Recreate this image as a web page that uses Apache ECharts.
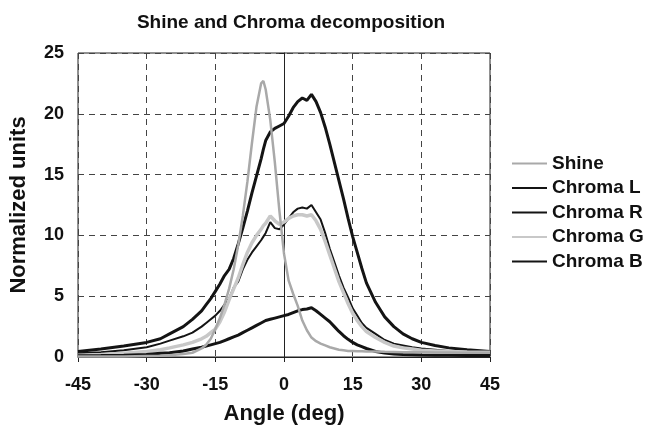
<!DOCTYPE html>
<html>
<head>
<meta charset="utf-8">
<script src="https://cdn.jsdelivr.net/npm/echarts@6/dist/echarts.min.js"></script>
<style>
html,body{margin:0;padding:0;background:#fff;}
#chart{width:646px;height:430px;}
</style>
</head>
<body>
<div id="chart"></div>
<script>
var angles = [-45,-40,-35,-30,-27,-25,-22,-20,-18,-17,-16,-15,-14,-13,-12,-11,-10,-9,-8,-7,-6,-5,-4.5,-4,-3,-2,-1,0,1,2,3,4,5,6,7,8,9,10,11,12,13,14,15,16,17,18,20,22,24,26,28,30,33,36,40,45];

var shine = [0.05,0.05,0.05,0.08,0.1,0.15,0.25,0.35,0.7,1.0,1.5,2.3,3.2,4.3,5.6,7.2,9.2,11.6,14.4,17.6,20.6,22.5,22.7,22.0,19.5,16.0,12.0,8.5,6.3,5.2,4.2,3.0,2.2,1.6,1.3,1.1,0.95,0.8,0.7,0.6,0.55,0.5,0.5,0.48,0.47,0.45,0.45,0.43,0.42,0.4,0.4,0.4,0.38,0.37,0.35,0.35];

var chromaL = [0.45,0.65,0.9,1.2,1.5,1.9,2.5,3.1,3.8,4.3,4.8,5.4,6.0,6.7,7.2,8.1,9.3,10.6,12.0,13.5,14.9,16.3,17.1,17.8,18.5,18.8,19.0,19.2,19.8,20.5,21.0,21.3,21.1,21.6,21.0,20.1,18.9,17.5,16.0,14.5,13.0,11.4,9.9,8.6,7.3,6.1,4.5,3.3,2.5,1.9,1.5,1.2,0.95,0.75,0.6,0.45];

var chromaR = [0.3,0.4,0.55,0.8,1.1,1.35,1.7,2.0,2.5,2.8,3.1,3.4,3.8,4.3,4.8,5.7,6.2,7.2,8.0,8.6,9.1,9.6,9.9,10.2,11.1,10.6,10.5,10.9,11.4,11.9,12.2,12.3,12.2,12.5,11.9,11.3,10.2,8.9,7.8,6.7,5.7,4.9,4.0,3.4,2.8,2.4,1.9,1.4,1.1,0.95,0.8,0.7,0.6,0.5,0.42,0.35];

var chromaG = [0.15,0.2,0.3,0.45,0.6,0.75,1.0,1.2,1.5,1.7,2.0,2.3,2.9,3.7,4.7,5.6,6.5,7.6,8.6,9.4,10.0,10.5,10.8,11.0,11.6,11.2,10.9,11.1,11.4,11.6,11.7,11.7,11.6,11.7,11.2,10.5,9.5,8.4,7.3,6.2,5.3,4.4,3.6,3.0,2.5,2.1,1.6,1.2,0.9,0.75,0.65,0.55,0.5,0.45,0.42,0.4];

var chromaB = [0.1,0.12,0.15,0.2,0.3,0.35,0.5,0.65,0.8,0.9,1.0,1.1,1.2,1.35,1.5,1.65,1.8,2.0,2.2,2.4,2.6,2.8,2.9,3.0,3.1,3.2,3.3,3.4,3.5,3.65,3.8,3.9,3.95,4.05,3.8,3.5,3.2,2.9,2.5,2.1,1.75,1.45,1.2,1.0,0.85,0.7,0.45,0.32,0.25,0.2,0.18,0.16,0.15,0.14,0.12,0.12];

var seriesNames = ['Shine','Chroma L','Chroma R','Chroma G','Chroma B'];
var seriesValues = [shine, chromaL, chromaR, chromaG, chromaB];
var xTicks = [-45,-30,-15,0,15,30,45];
var yTicks = [0,5,10,15,20,25];

var styles = [
  {color:'#a9a9a9', width:2.5},
  {color:'#141414', width:3},
  {color:'#141414', width:2},
  {color:'#c8c8c8', width:3.5},
  {color:'#141414', width:3}
];

function pairs(vals){ return angles.map(function(a,i){ return [a, vals[i]]; }); }

var FONT = 'Liberation Sans';
var chart = echarts.init(document.getElementById('chart'), null, {renderer:'canvas'});
chart.setOption({
  backgroundColor:'#fff',
  animation:false,
  title:{
    text:'Shine and Chroma decomposition',
    left:286, top:8, textAlign:'center',
    textStyle:{fontFamily:FONT, fontWeight:'bold', fontSize:19, color:'#111'}
  },
  legend:{
    orient:'vertical', left:511, top:154, padding:0,
    itemWidth:35, itemHeight:14, itemGap:5.5,
    itemStyle:{opacity:0},
    data:seriesNames,
    textStyle:{fontFamily:FONT, fontWeight:'bold', fontSize:19, color:'#111'}
  },
  grid:{left:78, right:156, top:53, bottom:70, show:true, borderColor:'#222', borderWidth:1, backgroundColor:'transparent'},
  xAxis:{
    type:'value', min:-45, max:45, interval:15,
    name:'Angle (deg)', nameLocation:'middle', nameGap:46,
    nameTextStyle:{fontFamily:FONT, fontWeight:'bold', fontSize:22, color:'#111'},
    axisLine:{onZero:false, lineStyle:{color:'#222', width:1}},
    axisTick:{show:true, length:5, lineStyle:{color:'#222'}},
    axisLabel:{fontFamily:FONT, fontWeight:'bold', fontSize:18, color:'#111', margin:19,
      formatter:function(v){ return xTicks.indexOf(v)>=0 ? String(v) : ''; }},
    splitLine:{show:true, lineStyle:{color:'#444', type:[6,5], width:1}}
  },
  yAxis:{
    type:'value', min:0, max:25, interval:5,
    name:'Normalized units', nameLocation:'middle', nameGap:48,
    nameTextStyle:{fontFamily:FONT, fontWeight:'bold', fontSize:22, color:'#111'},
    axisLine:{show:true, lineStyle:{color:'#222', width:1}},
    axisTick:{show:true, length:5, lineStyle:{color:'#222'}},
    axisLabel:{fontFamily:FONT, fontWeight:'bold', fontSize:18, color:'#111', margin:14,
      formatter:function(v){ return yTicks.indexOf(v)>=0 ? String(v) : ''; }},
    splitLine:{show:true, lineStyle:{color:'#444', type:[6,5], width:1}}
  },
  series: seriesNames.map(function(n,i){
    return {
      name:n, type:'line', data:pairs(seriesValues[i]),
      symbol:'none', smooth:false,
      color:styles[i].color,
      lineStyle:{color:styles[i].color, width:styles[i].width},
      z: i===0 ? 3 : 2
    };
  })
});
</script>
</body>
</html>
